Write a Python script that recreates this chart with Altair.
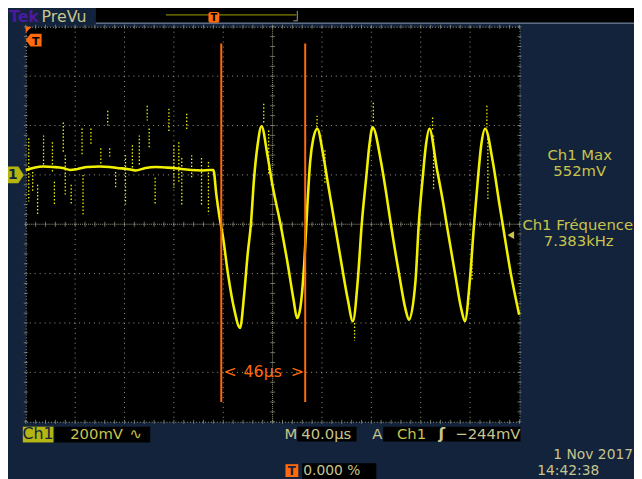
import altair as alt
import pandas as pd

# ---------------- data (time in µs, voltage in mV) ----------------
time_us = [
    0, 6, 14, 22, 30, 36, 42, 50, 60, 68, 74, 82, 89, 97, 105, 113, 120, 126, 134, 142, 149, 152,
    154.4, 157.0, 159.8, 163.8, 169.0, 173.6,
    177.0, 179.8, 182.4, 185.0, 187.8, 191.0,
    195.8, 199.8, 206.4, 212.2, 217.0, 219.8,
    222.4, 225.6, 228.2, 230.4, 233.0, 236.2,
    241.0, 245.0, 250.4, 255.8, 261.0, 265.0,
    269.0, 272.2, 275.8, 278.4, 281.0,
    287.8, 291.8, 295.8, 302.4, 307.8, 310.4,
    315.8, 318.4, 321.6, 324.2, 327.0,
    333.0, 338.4, 341.0, 347.8, 353.0, 355.8,
    359.8, 363.2, 366.4, 369.0, 372.2,
    378.4, 383.8, 386.4, 393.0, 399.8,
]
volt_mv = [
    20, 28, 34, 32, 28, 20, 24, 32, 34, 32, 28, 24, 18, 28, 32, 30, 28, 24, 20, 18, 20, 20,
    -80, -172, -252, -400, -547, -620,
    -480, -320, -200, -12, 120, 197,
    80, -40, -200, -360, -507, -580,
    -540, -360, -120, 53, 148, 187,
    80, -40, -200, -360, -507, -593,
    -427, -200, -12, 120, 193,
    53, -67, -200, -400, -547, -587,
    -427, -200, -12, 120, 187,
    27, -120, -200, -400, -547, -593,
    -427, -200, -12, 120, 187,
    53, -120, -200, -400, -567,
]

# noise streaks (time, upper mV, lower mV)
noise_t = [2.4, 5.6, 9.6, 14.4, 21.6, 23.2, 30.4, 32, 36.8, 45.6, 46.4, 52.8, 60.8, 66.4, 68,
           72.8, 80.8, 86.4, 92, 98.4, 100, 104.8, 116, 120, 124, 126.4, 130.4, 134.4, 142.4, 148,
           192.8, 196.8, 236, 242.4, 266.4, 281.6, 329.6, 330.4, 361.6, 373.6, 374.4]
noise_hi = [148, 12, -40, 160, 132, -28, 212, 80, -40, 188, 0, 188, 108, 260, 108,
            12, 80, 120, 160, 280, 188, -12, 268, 120, 132, 68, 248, 80, 68, 52,
            288, 180, 240, 100, -600, 292, 232, 160, -320, 280, 160]
noise_lo = [-108, -68, -160, 40, 12, -120, 92, -80, -120, 80, -160, 120, 40, 200, 68,
            -52, -120, 12, 40, 220, 108, -120, 172, -52, -28, -120, 180, -12, -120, -160,
            208, 0, 192, -40, -672, 208, 180, -60, -428, 192, -100]

cursor_t = [158.4, 226.4]
cursor_top = [532, 532]
cursor_bot = [-920, -920]
cursor_text = ["<", "46µs", ">"]
cursor_text_t = [165.6, 192, 220]
cursor_text_v = [-800, -800, -800]

trigger_level_mv = [-244]
trigger_marker_t = [393]
ground_mv = [0]

grid_t = [40, 80, 120, 160, 240, 280, 320, 360]
grid_v = [400, 200, 0, -400, -600, -800]
center_t = [200]
center_v = [-200]
minor_t = list(range(0, 401, 8))
minor_v = list(range(-1000, 601, 40))

# ---------------- styling ----------------
FONT = "DejaVu Sans"
NAVY = "#13233b"
TRACE = "#f2f200"
ORANGE = "#ff6a0d"
GRID = "#9a9a88"
KHAKI = "#c8c48e"
CHY = "#c8c44c"
OLIVE = "#b4b412"
PURPLE = "#4b1aa0"

xs = alt.Scale(domain=[0, 400], nice=False, zero=False)
ys = alt.Scale(domain=[-1000, 600], nice=False, zero=False)
ONE = pd.DataFrame({"k": [0]})


def X(f):
    return alt.X(f, type="quantitative", scale=xs, axis=None)


def Y(f):
    return alt.Y(f, type="quantitative", scale=ys, axis=None)


def box(x1, x2, y1, y2, fill, r=0):
    return alt.Chart(ONE).mark_rect(fill=fill, cornerRadius=r).encode(
        x=alt.value(x1), x2=alt.value(x2), y=alt.value(y1), y2=alt.value(y2))


def txt(s, x, y, color, size=15, align="left", weight="normal"):
    return alt.Chart(ONE).mark_text(text=s, align=align, baseline="alphabetic", font=FONT,
                                    fontSize=size, fontWeight=weight, color=color).encode(
        x=alt.value(x), y=alt.value(y))


def hline(x1, x2, y, color, w=1):
    return alt.Chart(ONE).mark_rule(color=color, strokeWidth=w).encode(
        x=alt.value(x1), x2=alt.value(x2), y=alt.value(y))


def vline(x, y1, y2, color, w=1):
    return alt.Chart(ONE).mark_rule(color=color, strokeWidth=w).encode(
        x=alt.value(x), y=alt.value(y1), y2=alt.value(y2))


def sym(path, x, y, size, color):
    return alt.Chart(ONE).mark_point(shape=path, filled=True, size=size, color=color, opacity=1,
                                     strokeWidth=0).encode(x=alt.value(x), y=alt.value(y))


# ---------------- graticule ----------------
grid_x = alt.Chart(pd.DataFrame({"t": grid_t})).mark_rule(
    color=GRID, strokeDash=[1, 4], strokeWidth=1).encode(x=X("t"))
grid_y = alt.Chart(pd.DataFrame({"v": grid_v})).mark_rule(
    color=GRID, strokeDash=[1, 4], strokeWidth=1).encode(y=Y("v"))
center_x = alt.Chart(pd.DataFrame({"t": center_t})).mark_rule(
    color=GRID, strokeDash=[1, 1]).encode(x=X("t"))
center_y = alt.Chart(pd.DataFrame({"v": center_v})).mark_rule(
    color=GRID, strokeDash=[1, 1]).encode(y=Y("v"))
ticks_h = alt.Chart(pd.DataFrame({"t": minor_t, "v": center_v * len(minor_t)})).mark_tick(
    orient="vertical", size=5, thickness=1, color=GRID).encode(x=X("t"), y=Y("v"))
ticks_v = alt.Chart(pd.DataFrame({"v": minor_v, "t": center_t * len(minor_v)})).mark_tick(
    orient="horizontal", size=5, thickness=1, color=GRID).encode(x=X("t"), y=Y("v"))
edge_top = alt.Chart(pd.DataFrame({"t": minor_t, "v": [600] * len(minor_t)})).mark_tick(
    orient="vertical", size=4, thickness=1, color=GRID).encode(x=X("t"), y=Y("v"))
edge_bot = alt.Chart(pd.DataFrame({"t": minor_t, "v": [-1000] * len(minor_t)})).mark_tick(
    orient="vertical", size=4, thickness=1, color=GRID).encode(x=X("t"), y=Y("v"))
edge_left = alt.Chart(pd.DataFrame({"v": minor_v, "t": [0] * len(minor_v)})).mark_tick(
    orient="horizontal", size=4, thickness=1, color=GRID).encode(x=X("t"), y=Y("v"))
edge_right = alt.Chart(pd.DataFrame({"v": minor_v, "t": [400] * len(minor_v)})).mark_tick(
    orient="horizontal", size=4, thickness=1, color=GRID).encode(x=X("t"), y=Y("v"))

# ---------------- signal ----------------
noise = alt.Chart(pd.DataFrame({"t": noise_t, "hi": noise_hi, "lo": noise_lo})).mark_rule(
    color=TRACE, strokeWidth=1.3, strokeDash=[1.5, 2], opacity=1).encode(
    x=X("t"), y=Y("hi"), y2="lo:Q")

wave = alt.Chart(pd.DataFrame({"t": time_us, "v": volt_mv})).mark_line(
    color=TRACE, strokeWidth=2.6, interpolate="monotone").encode(x=X("t"), y=Y("v"))

cursors = alt.Chart(pd.DataFrame({"t": cursor_t, "top": cursor_top, "bot": cursor_bot})).mark_rule(
    color=ORANGE, strokeWidth=2).encode(x=X("t"), y=Y("top"), y2="bot:Q")
cursor_lbl = alt.Chart(pd.DataFrame({"s": cursor_text, "t": cursor_text_t, "v": cursor_text_v})).mark_text(
    font=FONT, fontSize=16, color=ORANGE, baseline="middle", align="center").encode(
    x=X("t"), y=Y("v"), text="s:N")

trig_arrow = alt.Chart(pd.DataFrame({"t": trigger_marker_t, "v": trigger_level_mv})).mark_point(
    shape="triangle-left", filled=True, size=60, color=CHY, opacity=1).encode(x=X("t"), y=Y("v"))

gnd_path = "M-1,-0.85L0.45,-0.85L1,0L0.45,0.85L-1,0.85Z"
gnd_df = pd.DataFrame({"v": ground_mv})
gnd_mark = alt.Chart(gnd_df).mark_point(shape=gnd_path, filled=True, size=400, color=OLIVE,
                                        opacity=1, strokeWidth=0).encode(x=alt.value(-12), y=Y("v"))
gnd_txt = alt.Chart(gnd_df).mark_text(text="1", font=FONT, fontSize=14, fontWeight="bold",
                                      color=NAVY, baseline="middle", align="center").encode(
    x=alt.value(-13), y=Y("v"))

# ---------------- screen decorations ----------------
deco = [
    # header
    box(71, 616, -20, -4, "#000000"),
    hline(71, 616, -3.5, "#5d6d86", 1.5),
    txt("Tek", -17, -5, PURPLE, 16, weight="bold"),
    txt("PreVu", 16, -5, KHAKI, 16),
    hline(142, 274, -12, "#a3a300", 1),
    vline(275, -16, -6, "#a0a090", 1),
    hline(271, 275, -6, "#a0a090", 1),
    box(185, 196, -15, -4, ORANGE, 2),
    txt("T", 190.5, -5.5, "#000000", 10, align="center", weight="bold"),
    # trigger point marker, top-left of graticule
    sym("M-1,-1L1,-1L-1,1Z", 3, 3, 36, ORANGE),
    sym("M-1,0L-0.4,-0.8L1,-0.8L1,0.8L-0.4,0.8Z", 8, 13.5, 256, ORANGE),
    txt("T", 10, 18, "#000000", 11, align="center", weight="bold"),
    # right-hand measurement readouts
    txt("Ch1 Max", 561, 135, CHY, 15, align="center"),
    txt("552mV", 561, 151, CHY, 15, align="center"),
    txt("Ch1 Fréquence", 559, 206, CHY, 15, align="center"),
    txt("7.383kHz", 560, 222, CHY, 15, align="center"),
    # bottom status line
    box(-3, 28, 405, 421, OLIVE),
    txt("Ch1", 12.5, 418, NAVY, 16, align="center"),
    box(29, 126, 405, 421, "#000000"),
    txt("200mV", 45, 417, CHY, 15),
    txt("∿", 105, 417, CHY, 15),
    txt("M", 262, 417, KHAKI, 15),
    box(275, 335, 405, 420, "#000000"),
    txt("40.0µs", 279, 417, KHAKI, 15),
    txt("A", 351, 417, KHAKI, 15),
    box(362, 501, 405, 420, "#000000"),
    txt("Ch1", 376, 417, CHY, 15),
    txt("ʃ", 418, 417, KHAKI, 16, weight="bold"),
    txt("−244mV", 435, 417, KHAKI, 15),
    box(263, 276, 443, 456, ORANGE),
    txt("T", 269.5, 454, NAVY, 12, align="center", weight="bold"),
    box(280, 355, 442, 460, "#000000"),
    txt("0.000 %", 281, 454, KHAKI, 14),
    txt("1 Nov 2017", 615, 438, KHAKI, 14, align="right"),
    txt("14:42:38", 518, 454, KHAKI, 14),
]

chart = alt.layer(
    grid_x, grid_y, center_x, center_y, ticks_h, ticks_v,
    edge_top, edge_bot, edge_left, edge_right,
    noise, wave, cursors, cursor_lbl, trig_arrow, gnd_mark, gnd_txt, *deco
).properties(
    width=500,
    height=400,
    padding={"left": 18, "top": 16, "right": 116, "bottom": 55},
    autosize=alt.AutoSizeParams(type="none"),
    background=NAVY,
).configure_view(
    fill="#000000", stroke=GRID, strokeDash=[1, 2], strokeWidth=1
)

chart.save("out.html", embed_options={"renderer": "svg", "actions": False})
